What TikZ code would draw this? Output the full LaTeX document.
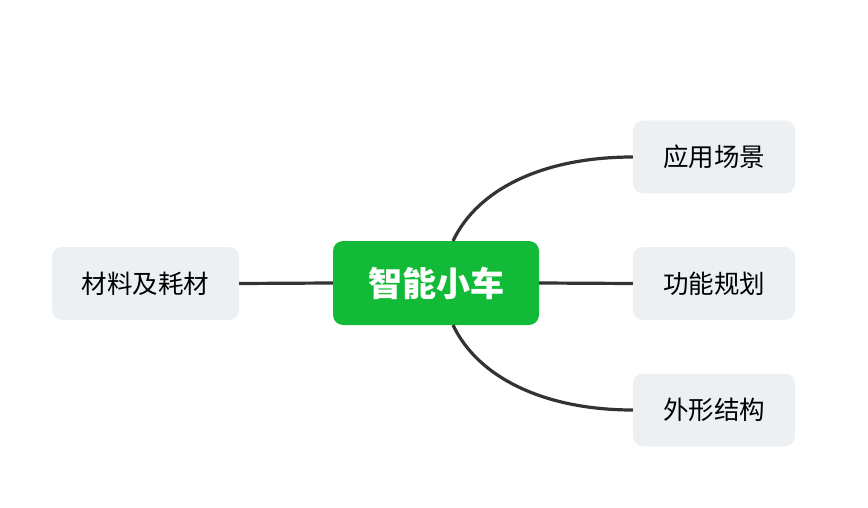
\documentclass[tikz,border=0pt]{standalone}
\usepackage{fontspec}
\newfontfamily\cjk{Noto Sans CJK SC}
\definecolor{rootgreen}{HTML}{12BB37}
\definecolor{leafbg}{HTML}{EDF0F3}
\definecolor{linegray}{HTML}{333333}
\begin{document}
\begin{tikzpicture}[x=1pt,y=-1pt,
  rootbox/.style={fill=rootgreen,rounded corners=10pt,minimum width=206pt,minimum height=84pt,inner sep=0pt,text=white,font=\cjk\bfseries\fontsize{34}{40}\selectfont},
  leafbox/.style={fill=leafbg,rounded corners=10pt,minimum height=73pt,inner sep=0pt,text=black,font=\cjk\fontsize{25.5}{30}\selectfont},
  conn/.style={draw=linegray,line width=3.2pt}]
\useasboundingbox (0,0) rectangle (868,508);
\node[rootbox] (root) at (436,283) {智能小车};
\node[leafbox,minimum width=162pt] (a) at (714,157) {应用场景};
\node[leafbox,minimum width=162pt] (b) at (714,283.5) {功能规划};
\node[leafbox,minimum width=162pt] (c) at (714,410) {外形结构};
\node[leafbox,minimum width=187pt] (d) at (145.5,283.5) {材料及耗材};
\coordinate (rt) at (453,241);
\coordinate (rb) at (453,325);
\draw[conn] (rt) .. controls (478,188) and (545,157) .. (a.west);
\draw[conn] (rb) .. controls (478,378) and (545,410) .. (c.west);
\draw[conn] (root.east) -- (b.west);
\draw[conn] (d.east) -- (root.west);
\end{tikzpicture}
\end{document}
